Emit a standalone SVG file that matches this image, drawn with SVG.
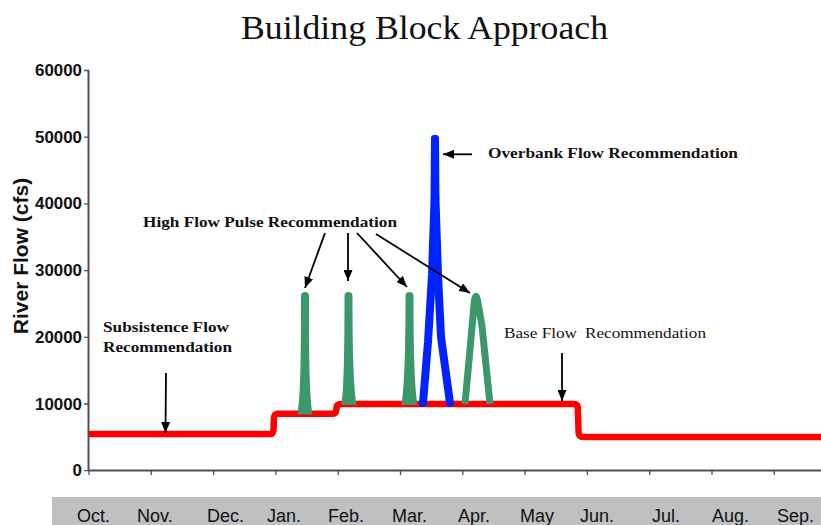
<svg xmlns="http://www.w3.org/2000/svg" width="821" height="525" viewBox="0 0 821 525">
<style>
.ax{stroke:#505050;stroke-width:2;fill:none}
.tk{stroke:#505050;stroke-width:1.3;fill:none}
.ylab{font-family:"Liberation Sans",Arial,sans-serif;font-weight:bold;font-size:16px;fill:#111;text-anchor:end}
.mon{font-family:"Liberation Sans",Arial,sans-serif;font-size:18px;fill:#111}
.ann{font-family:"Liberation Serif","Times New Roman",serif;font-weight:bold;font-size:15.5px;fill:#111}
.annr{font-family:"Liberation Serif","Times New Roman",serif;font-size:15.5px;fill:#111}
.arr{stroke:#000;stroke-width:1.8;fill:none;marker-end:url(#ah)}
.green{fill:#3b986b}
.greenl{stroke:#3b986b;stroke-width:7;fill:none;stroke-linejoin:round;stroke-linecap:butt}
.blue{stroke:#0022ff;stroke-width:8;fill:none;stroke-linejoin:round;stroke-linecap:round}
.red{stroke:#ff0000;stroke-width:6.5;fill:none;stroke-linejoin:round}
</style>
<defs>
<marker id="ah" markerUnits="userSpaceOnUse" markerWidth="11" markerHeight="9" refX="11" refY="4.5" orient="auto">
<path d="M0,0 L11,4.5 L0,9 z" fill="#000"/>
</marker>
</defs>
<rect width="821" height="525" fill="#fff"/>
<g id="title">
<text x="241" y="38.5" font-family="'Liberation Serif','Times New Roman',serif" font-size="33" fill="#111" textLength="367" lengthAdjust="spacingAndGlyphs">Building Block Approach</text>
</g>
<g id="axes">
<line class="ax" x1="88.5" y1="70" x2="88.5" y2="471"/>
<line class="ax" x1="88" y1="470.5" x2="821" y2="470.5"/>
<path class="tk" d="M84,70.5H89M84,137.2H89M84,203.9H89M84,270.6H89M84,337.3H89M84,404H89M84,470.7H89"/>
<path class="tk" d="M89,470V475M151.3,470V475M213.6,470V475M275.9,470V475M338.2,470V475M400.5,470V475M462.8,470V475M525.1,470V475M587.4,470V475M649.7,470V475M712,470V475M774.3,470V475"/>
<text class="ylab" x="82" y="76" textLength="47" lengthAdjust="spacingAndGlyphs">60000</text>
<text class="ylab" x="82" y="142.7" textLength="47" lengthAdjust="spacingAndGlyphs">50000</text>
<text class="ylab" x="82" y="209.4" textLength="47" lengthAdjust="spacingAndGlyphs">40000</text>
<text class="ylab" x="82" y="276.1" textLength="47" lengthAdjust="spacingAndGlyphs">30000</text>
<text class="ylab" x="82" y="342.8" textLength="47" lengthAdjust="spacingAndGlyphs">20000</text>
<text class="ylab" x="82" y="409.5" textLength="47" lengthAdjust="spacingAndGlyphs">10000</text>
<text class="ylab" x="82" y="476.2" textLength="9.4" lengthAdjust="spacingAndGlyphs">0</text>
<text x="0" y="0" transform="translate(28,256) rotate(-90)" text-anchor="middle" font-family="'Liberation Sans',Arial,sans-serif" font-weight="bold" font-size="21" fill="#111">River Flow (cfs)</text>
</g>
<g id="months">
<rect x="52" y="497" width="769" height="28" fill="#c0bfc2"/>
<text class="mon" x="77" y="521.5">Oct.</text>
<text class="mon" x="137" y="521.5">Nov.</text>
<text class="mon" x="207" y="521.5">Dec.</text>
<text class="mon" x="267" y="521.5">Jan.</text>
<text class="mon" x="328" y="521.5">Feb.</text>
<text class="mon" x="392" y="521.5">Mar.</text>
<text class="mon" x="458" y="521.5">Apr.</text>
<text class="mon" x="520" y="521.5">May</text>
<text class="mon" x="580" y="521.5">Jun.</text>
<text class="mon" x="652" y="521.5">Jul.</text>
<text class="mon" x="712" y="521.5">Aug.</text>
<text class="mon" x="777" y="521.5">Sep.</text>
</g>
<g id="base-flow-line">
<path class="red" d="M89,434 H270 Q273,434 273.5,430 L274,417.5 Q274.5,413.8 278,413.8 H333 Q336,413.8 336.3,410 L336.6,407.5 Q337,404 341,404 H574 Q577.5,404 577.8,408 L578.6,433 Q579,437 583,437 H821"/>
</g>
<g id="high-flow-pulses">
<path class="green" d="M297.5,414.5 C300.5,395 301,360 301,296 A4,4 0 0 1 309,296 C309,360 309.5,395 312.5,414.5 Z"/>
<path class="green" d="M341.5,405 C344,385 344.5,350 344.5,296 A4,4 0 0 1 352.5,296 C352.5,350 353.5,385 356.5,405 Z"/>
<path class="green" d="M401.5,405 C404.5,385 405.5,350 405.5,296 A4,4 0 0 1 413.5,296 C413.5,350 414.5,385 417.5,405 Z"/>
<path class="greenl" d="M465,404 L474.5,300 Q476,292.5 477.5,300 L482,326 L490,404"/>
</g>
<g id="overbank-flow">
<path class="blue" d="M423,403 L428,342 L432,275 L434.5,200 L435,139"/>
<path class="blue" d="M450,403 L441,337 L438,275 L435.5,200 L435,139"/>
</g>
<g id="labels">
<text class="ann" x="143" y="226.5" textLength="254" lengthAdjust="spacingAndGlyphs">High Flow Pulse Recommendation</text>
<text class="ann" x="488" y="157.5" textLength="250" lengthAdjust="spacingAndGlyphs">Overbank Flow Recommendation</text>
<text class="ann" x="103" y="331.5" textLength="126" lengthAdjust="spacingAndGlyphs">Subsistence Flow</text>
<text class="ann" x="103" y="351.5" textLength="129" lengthAdjust="spacingAndGlyphs">Recommendation</text>
<text class="annr" y="338"><tspan x="504" textLength="73" lengthAdjust="spacingAndGlyphs">Base Flow</tspan><tspan x="585" textLength="121" lengthAdjust="spacingAndGlyphs">Recommendation</tspan></text>
</g>
<g id="connectors">
<line class="arr" x1="166" y1="373" x2="165.5" y2="433"/>
<line class="arr" x1="562" y1="353" x2="562" y2="401"/>
<line class="arr" x1="472" y1="154.3" x2="443" y2="154.3"/>
<line class="arr" x1="325" y1="233" x2="305" y2="288"/>
<line class="arr" x1="348" y1="233" x2="348" y2="281"/>
<line class="arr" x1="357" y1="233" x2="407" y2="287"/>
<line class="arr" x1="376" y1="234" x2="470" y2="293"/>
</g>
</svg>
